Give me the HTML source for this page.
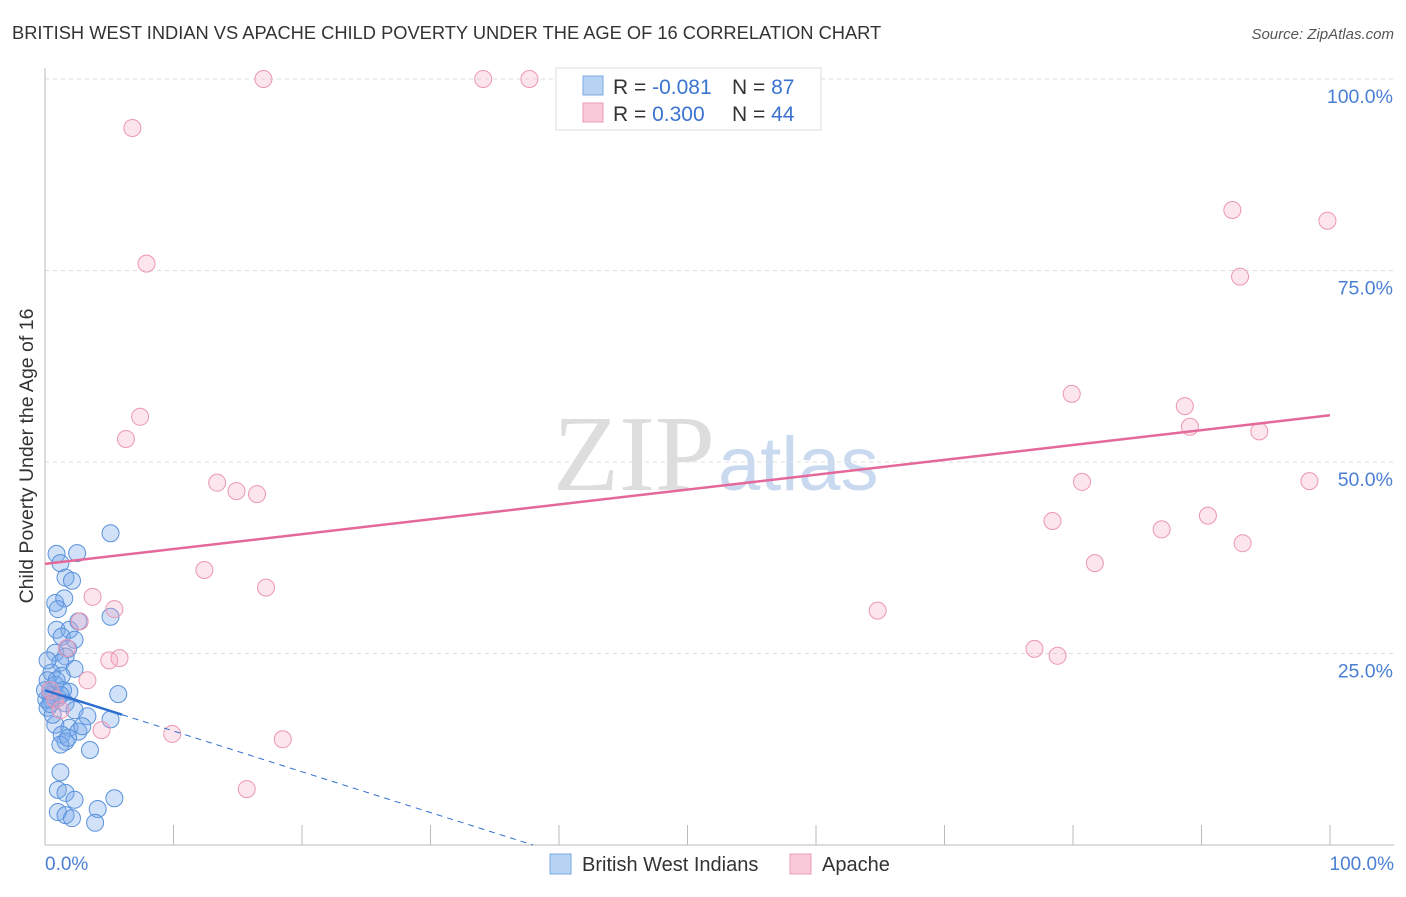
<!DOCTYPE html>
<html><head><meta charset="utf-8"><style>
body{margin:0;background:#fff;font-family:"Liberation Sans",sans-serif}
</style></head><body>
<svg width="1406" height="892" xmlns="http://www.w3.org/2000/svg" font-family="Liberation Sans, sans-serif">
<text x="12" y="39" font-size="18.3" fill="#333">BRITISH WEST INDIAN VS APACHE CHILD POVERTY UNDER THE AGE OF 16 CORRELATION CHART</text>
<text x="1394" y="39" font-size="15" fill="#555" font-style="italic" text-anchor="end">Source: ZipAtlas.com</text>
<text x="715" y="490" font-size="108" fill="#ddd" text-anchor="end" font-family="Liberation Serif, serif">ZIP</text>
<text x="718" y="490" font-size="76" fill="#c9daf0">atlas</text>
<g id="grid"></g>
<line x1="45" y1="68" x2="45" y2="845" stroke="#bbb"/>
<line x1="45" y1="845" x2="1394" y2="845" stroke="#bbb"/>
<text x="33" y="456" font-size="19.5" fill="#333" text-anchor="middle" transform="rotate(-90 33 456)">Child Poverty Under the Age of 16</text>
<text x="45" y="870" font-size="19" fill="#4a7fd4">0.0%</text>
<text x="1394" y="870" font-size="19" fill="#4a7fd4" text-anchor="end">100.0%</text>
<g id="pts"></g>
<g id="lines"></g>
<g>
<rect x="556" y="68" width="265" height="62" fill="#fff" stroke="#ddd"/>
<rect x="583" y="76" width="20" height="19" fill="#b8d4f5" stroke="#7aa8e0"/>
<rect x="583" y="103" width="20" height="19" fill="#fbcada" stroke="#ee9ab5"/>
<text x="613" y="94" font-size="21" fill="#333">R = <tspan fill="#3a74d0">-0.081</tspan></text>
<text x="732" y="94" font-size="21" fill="#333">N = <tspan fill="#3a74d0">87</tspan></text>
<text x="613" y="121" font-size="21" fill="#333">R = <tspan fill="#3a74d0"> 0.300</tspan></text>
<text x="732" y="121" font-size="21" fill="#333">N = <tspan fill="#3a74d0">44</tspan></text>
</g>
<g>
<rect x="550" y="854" width="21" height="20" fill="#b8d4f5" stroke="#7aa8e0"/>
<text x="582" y="871" font-size="20" fill="#333">British West Indians</text>
<rect x="790" y="854" width="21" height="20" fill="#fbcada" stroke="#ee9ab5"/>
<text x="822" y="871" font-size="20" fill="#333">Apache</text>
</g>
</svg>
<script>
const yTicks=[25,50,75,100];
const yTickLabels=["25.0%","50.0%","75.0%","100.0%"];
const xTicks=[10,20,30,40,50,60,70,80,90,100];
const blueX=[0.9,2.5,5.1,1.2,1.6,2.1,0.8,1.5,1.0,0.9,1.9,2.6,5.1,1.3,2.3,1.8,0.8,1.6,1.2,2.3,0.5,1.3,0.2,0.8,1.9,5.7,0.4,1.0,1.6,0.2,2.3,3.3,5.1,0.8,1.9,2.6,1.3,1.6,2.9,1.2,3.5,1.8,1.2,1.0,1.6,2.3,5.4,4.1,1.0,1.6,2.1,3.9,0.4,0.5,0.2,0.6,0.9,1.4,0.1,0.4,1.2,0.0];
const blueY=[38.0,38.1,40.7,36.8,34.9,34.5,31.6,32.2,30.8,28.1,28.1,29.2,29.8,27.2,26.8,25.6,25.1,24.6,23.8,23.0,22.5,22.1,21.5,20.9,20.0,19.7,19.6,19.2,18.5,17.9,17.6,16.8,16.4,15.7,15.3,14.8,14.4,13.5,15.5,13.1,12.4,14.0,9.5,7.2,6.8,5.9,6.1,4.7,4.3,3.9,3.5,2.9,20.2,19.0,24.1,17.0,21.5,20.2,19.0,18.4,19.6,20.2];
const pinkX=[17.0,34.1,37.7,6.8,7.9,7.4,6.3,13.4,14.9,16.5,12.4,17.2,3.7,5.4,2.7,1.7,5.0,5.8,3.3,4.4,9.9,18.5,15.7,64.8,79.9,80.7,78.4,81.7,77.0,78.8,88.7,89.1,92.4,93.0,94.5,90.5,86.9,93.2,99.8,98.4,0.4,0.8,1.2];
const pinkY=[100,100,100,93.6,75.9,55.9,53.0,47.3,46.2,45.8,35.9,33.6,32.4,30.8,29.2,25.7,24.1,24.4,21.5,15.0,14.5,13.8,7.3,30.6,58.9,47.4,42.3,36.8,25.6,24.7,57.3,54.6,82.9,74.2,54.0,43.0,41.2,39.4,81.5,47.5,20.2,19.0,17.6];
const pinkTrend=[36.7,56.1];
const blueTrend=[20.2,-0.532];
const NS="http://www.w3.org/2000/svg";
const X=v=>45+v*12.85, Y=v=>845-v*7.66;
function mk(t,a,p){const e=document.createElementNS(NS,t);for(const k in a)e.setAttribute(k,a[k]);document.getElementById(p).appendChild(e);return e;}
yTicks.forEach((t,i)=>{
 const l=mk('line',{x1:45,x2:1394,y1:Y(t),y2:Y(t),stroke:'#ddd','stroke-dasharray':'4,4'},'grid');
 
 
 const tx=mk('text',{x:1393,y:Y(t)+24,'font-size':19.5,fill:'#4a7fd4','text-anchor':'end'},'grid');
 tx.textContent=yTickLabels[i];
 
 
});
xTicks.forEach(t=>{
 const l=mk('line',{x1:X(t),x2:X(t),y1:825,y2:845,stroke:'#bbb'},'grid');
 
 
});
blueX.forEach((x,i)=>{
 const c=mk('circle',{cx:X(x),cy:Y(blueY[i]),r:8.5,fill:'rgba(120,170,235,0.35)',stroke:'#5a92dc','stroke-width':1},'pts');
 
 
});
pinkX.forEach((x,i)=>{
 const c=mk('circle',{cx:X(x),cy:Y(pinkY[i]),r:8.5,fill:'rgba(245,170,195,0.3)',stroke:'#ec97b2','stroke-width':1},'pts');
 
 
});
let l=mk('line',{x1:X(0),y1:Y(pinkTrend[0]),x2:X(100),y2:Y(pinkTrend[1]),stroke:'#e4689a','stroke-width':2.5},'lines');


l=mk('line',{x1:X(0),y1:Y(blueTrend[0]),x2:X(6),y2:Y(blueTrend[0]+blueTrend[1]*6),stroke:'#2f6fd0','stroke-width':2.5},'lines');


const xe=-blueTrend[0]/blueTrend[1];
l=mk('line',{x1:X(6),y1:Y(blueTrend[0]+blueTrend[1]*6),x2:X(xe),y2:Y(0),stroke:'#2f6fd0','stroke-width':1,'stroke-dasharray':'6,5'},'lines');


</script>
</body></html>
